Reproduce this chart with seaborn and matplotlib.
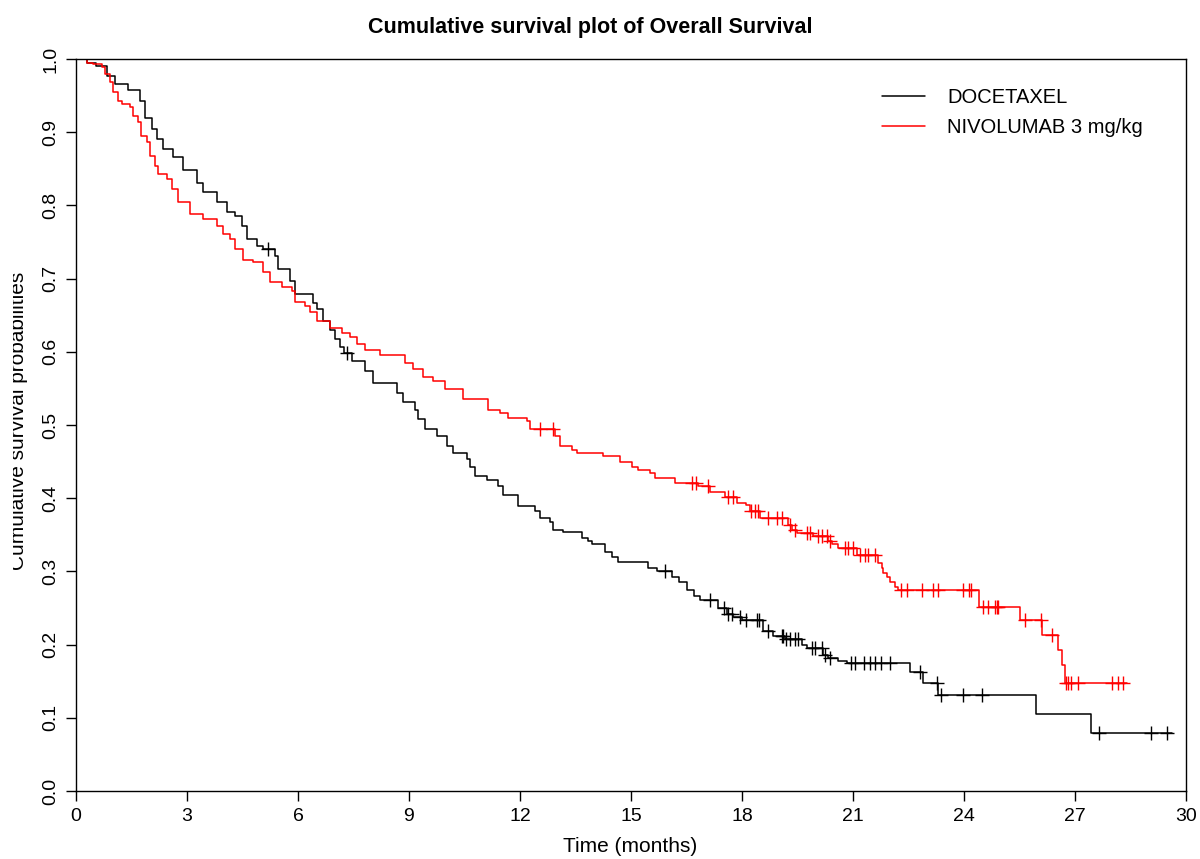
import numpy as np
import pandas as pd
import matplotlib
matplotlib.use("Agg")
import matplotlib.pyplot as plt
import seaborn as sns
from matplotlib.lines import Line2D
from matplotlib.transforms import Bbox

# Kaplan-Meier step data (event time in months, survival after the event)
doc_time = [0.30, 0.55, 0.83, 1.05, 1.41, 1.73, 1.86, 2.05, 2.18, 2.35, 2.63, 2.89,
            3.26, 3.44, 3.80, 4.07, 4.30, 4.48, 4.61, 4.88, 5.05, 5.38, 5.46, 5.78,
            5.92, 6.41, 6.50, 6.68, 6.86, 7.00, 7.14, 7.25, 7.45, 7.81, 8.03, 8.67,
            8.84, 9.16, 9.24, 9.43, 9.75, 10.02, 10.19, 10.56, 10.65, 10.78, 11.10,
            11.41, 11.54, 11.95, 12.41, 12.54, 12.81, 12.89, 13.16, 13.67, 13.84,
            13.94, 14.30, 14.48, 14.65, 15.46, 15.69, 16.10, 16.30, 16.50, 16.70,
            16.86, 17.35, 17.60, 17.76, 17.99, 18.57, 18.85, 19.16, 19.61, 19.75,
            20.19, 20.32, 20.60, 20.85, 22.54, 22.90, 23.30, 25.95, 27.42]
doc_surv = [0.995, 0.991, 0.977, 0.966, 0.957, 0.943, 0.920, 0.904, 0.891, 0.877, 0.866, 0.849,
            0.831, 0.818, 0.804, 0.791, 0.786, 0.772, 0.754, 0.745, 0.740, 0.731, 0.713, 0.697,
            0.679, 0.667, 0.658, 0.642, 0.630, 0.617, 0.606, 0.599, 0.587, 0.574, 0.558, 0.544,
            0.531, 0.521, 0.508, 0.494, 0.485, 0.471, 0.462, 0.453, 0.443, 0.430, 0.425,
            0.416, 0.405, 0.389, 0.382, 0.373, 0.367, 0.357, 0.354, 0.346, 0.341,
            0.337, 0.326, 0.319, 0.313, 0.305, 0.300, 0.293, 0.285, 0.275, 0.266,
            0.261, 0.250, 0.242, 0.238, 0.234, 0.218, 0.212, 0.207, 0.200, 0.195,
            0.186, 0.182, 0.178, 0.175, 0.162, 0.147, 0.131, 0.105, 0.079]
doc_end = 29.61
doc_cens = [5.19, 7.32, 15.92, 17.14, 17.50, 17.63, 17.72, 17.95, 18.12, 18.40, 18.45,
            18.71, 19.07, 19.12, 19.20, 19.30, 19.43, 19.52, 19.88, 19.97, 20.15, 20.24,
            20.38, 20.95, 21.05, 21.30, 21.45, 21.60, 21.75, 22.00, 22.81, 23.26, 23.38,
            23.96, 24.48, 27.65, 29.05, 29.48]

niv_time = [0.29, 0.46, 0.69, 0.78, 0.92, 1.00, 1.14, 1.23, 1.46, 1.54, 1.68, 1.77,
            1.91, 2.00, 2.14, 2.22, 2.45, 2.59, 2.76, 3.08, 3.44, 3.80, 3.98, 4.16,
            4.30, 4.52, 4.79, 5.05, 5.24, 5.56, 5.83, 5.92, 6.19, 6.32, 6.50, 6.86,
            7.18, 7.41, 7.59, 7.81, 8.22, 8.89, 9.11, 9.38, 9.65, 9.97, 10.46, 11.14,
            11.46, 11.68, 12.18, 12.27, 12.95, 13.08, 13.40, 13.53, 14.24, 14.70,
            15.02, 15.19, 15.51, 15.65, 16.19, 16.80, 17.14, 17.54, 17.86, 18.12,
            18.22, 18.49, 19.24, 19.34, 19.48, 19.92, 20.32, 20.42, 20.59, 21.10,
            21.68, 21.78, 21.81, 21.91, 22.00, 22.14, 22.22, 24.40, 25.51, 26.10,
            26.55, 26.64, 26.73]
niv_surv = [0.995, 0.993, 0.989, 0.979, 0.968, 0.955, 0.943, 0.938, 0.934, 0.922, 0.914, 0.895,
            0.886, 0.868, 0.854, 0.843, 0.836, 0.822, 0.804, 0.788, 0.781, 0.772, 0.761, 0.754,
            0.740, 0.726, 0.722, 0.709, 0.695, 0.688, 0.683, 0.668, 0.662, 0.654, 0.642, 0.633,
            0.626, 0.620, 0.610, 0.603, 0.596, 0.585, 0.576, 0.565, 0.560, 0.549, 0.535, 0.521,
            0.517, 0.510, 0.505, 0.494, 0.485, 0.471, 0.466, 0.462, 0.457, 0.450,
            0.443, 0.439, 0.435, 0.428, 0.421, 0.416, 0.409, 0.401, 0.394, 0.391,
            0.382, 0.373, 0.364, 0.357, 0.353, 0.348, 0.341, 0.337, 0.332, 0.323,
            0.312, 0.305, 0.298, 0.293, 0.286, 0.279, 0.274, 0.252, 0.234, 0.213,
            0.193, 0.172, 0.148]
niv_end = 28.40
niv_cens = [12.54, 12.89, 16.64, 16.76, 17.09, 17.63, 17.77, 18.25, 18.35, 18.44, 18.71,
            18.94, 19.07, 19.30, 19.43, 19.75, 19.84, 20.06, 20.15, 20.29, 20.38, 20.78,
            20.87, 21.00, 21.19, 21.32, 21.41, 21.59, 22.31, 22.45, 22.86, 23.15, 23.31,
            23.96, 24.14, 24.20, 24.52, 24.66, 24.84, 24.88, 24.93, 25.65, 26.08, 26.37,
            26.76, 26.82, 26.88, 27.09, 27.99, 28.17, 28.31]

arms = ["DOCETAXEL", "NIVOLUMAB 3 mg/kg"]
arm_colors = {"DOCETAXEL": "black", "NIVOLUMAB 3 mg/kg": "red"}
x_ticks = list(range(0, 31, 3))
y_ticks = [round(v * 0.1, 1) for v in range(11)]


def step_frame(arm, times, surv, end):
    t = [0.0] + list(times) + [end]
    s = [1.0] + list(surv) + [surv[-1]]
    return pd.DataFrame({"time": t, "surv": s, "arm": arm})


def censor_frame(arm, times, surv, cens):
    t = np.array([0.0] + list(times))
    s = np.array([1.0] + list(surv))
    idx = np.searchsorted(t, cens, side="right") - 1
    return pd.DataFrame({"time": cens, "surv": s[idx], "arm": arm})


curves = pd.concat([step_frame(arms[0], doc_time, doc_surv, doc_end),
                    step_frame(arms[1], niv_time, niv_surv, niv_end)], ignore_index=True)
marks = pd.concat([censor_frame(arms[0], doc_time, doc_surv, doc_cens),
                   censor_frame(arms[1], niv_time, niv_surv, niv_cens)], ignore_index=True)

sns.set_theme(style="white")
plt.rcParams["font.family"] = ["Liberation Sans", "DejaVu Sans"]
plt.rcParams["text.color"] = "black"
plt.rcParams["xtick.color"] = "black"
plt.rcParams["ytick.color"] = "black"

W, H = 1200, 859
fig = plt.figure(figsize=(W / 100, H / 100), dpi=100)
ax = fig.add_axes([76 / W, 1 - 791 / H, 1110 / W, 732 / H])

for arm in arms:
    sub = curves[curves["arm"] == arm]
    sns.lineplot(data=sub, x="time", y="surv", color=arm_colors[arm],
                 drawstyle="steps-post", linewidth=1.1, ax=ax, legend=False,
                 estimator=None, sort=False)
    cm = marks[marks["arm"] == arm]
    sns.scatterplot(data=cm, x="time", y="surv", marker="+", s=90,
                    color=arm_colors[arm], linewidth=1.0, ax=ax, legend=False,
                    zorder=3)

ax.set_xlim(0, 30)
ax.set_ylim(0, 1)
ax.set_xticks(x_ticks)
ax.set_xticklabels([str(v) for v in x_ticks], fontsize=14)
ax.set_yticks(y_ticks)
ax.set_yticklabels([f"{v:.1f}" for v in y_ticks], fontsize=14, rotation=90, va="center")
ax.tick_params(axis="both", direction="out", length=7, width=1, color="black",
               left=True, bottom=True, pad=5)
for sp in ax.spines.values():
    sp.set_visible(True)
    sp.set_color("black")
    sp.set_linewidth(1.0)
ax.set_xlabel("")
ax.set_ylabel("")

fig.text(630 / W, 1 - 846 / H, "Time (months)", ha="center", va="center", fontsize=15)
ylab = fig.text(19 / W, 1 - 421 / H, "Cumulative survival probabilities", rotation=90,
                ha="center", va="center", fontsize=15)
# the device region cuts the top of the rotated label on the left
ylab.set_clip_box(Bbox.from_extents(13, 0, W, H))
ylab.set_clip_on(True)
fig.text(590 / W, 1 - 27 / H, "Cumulative survival plot of Overall Survival",
         ha="center", va="center", fontsize=15.5, fontweight="bold")

handles = [Line2D([0], [0], color=arm_colors[a], linewidth=1.1) for a in arms]
ax.legend(handles, arms, loc="upper left",
          bbox_to_anchor=((882 - 76) / 1110, (791 - 88) / 732),
          frameon=False, fontsize=14.5, handlelength=2.15, handletextpad=1.1,
          labelspacing=0.55, borderaxespad=0, borderpad=0)

fig.savefig("out.png", dpi=100)
